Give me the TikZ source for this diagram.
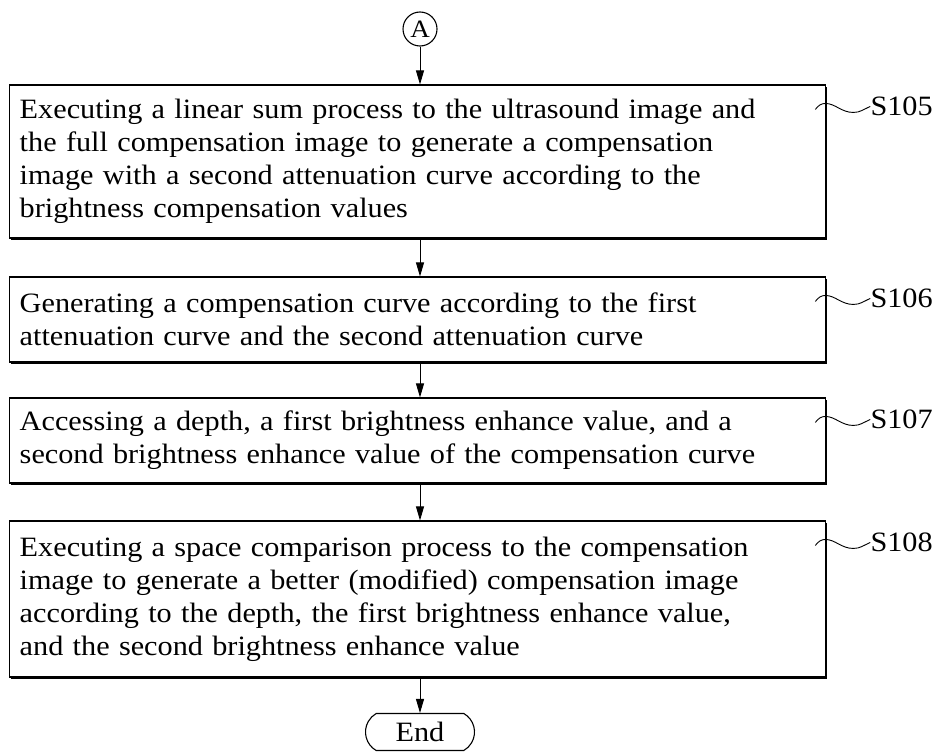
\documentclass[tikz,border=0pt]{standalone}
\usepackage{fontspec}
\setmainfont{Liberation Serif}[FakeStretch=1.08]
\usetikzlibrary{arrows.meta,shapes.misc,shadows,calc}

\begin{document}
\begin{tikzpicture}[x=1pt,y=1pt,
  stepbox/.style={draw, line width=1.1pt, rectangle, text width=796pt, inner xsep=10pt, inner ysep=0pt,
     align=left, font=\fontsize{28}{33}\selectfont, fill=white,
     drop shadow={shadow xshift=1.6pt, shadow yshift=-1.6pt, fill=black, opacity=1}},
  lbl/.style={anchor=west, inner sep=0pt, font=\fontsize{28}{33}\selectfont},
  conn/.style={draw, line width=0.9pt, -{Triangle[length=14pt,width=8pt]}},
  tilde/.style={draw, line width=0.9pt},
  term/.style={draw, line width=1.1pt, rounded rectangle, rounded rectangle arc length=120,
     minimum width=109pt, minimum height=37pt, inner sep=0pt, font=\fontsize{28}{30}\selectfont},
  conncircle/.style={draw, line width=1.1pt, circle, minimum size=34pt, inner sep=0pt, font=\fontsize{25}{28}\selectfont}
]
\useasboundingbox (0,0) rectangle (939,-752);

\node[conncircle] (A) at (420,-29) {A};

\node[stepbox, minimum height=153pt] (b1) at (417.75,-161.5)
  {Executing a linear sum process to the ultrasound image and\\
   the full compensation image to generate a compensation\\
   image with a second attenuation curve according to the\\
   brightness compensation values};
\node[stepbox, minimum height=85pt] (b2) at (417.75,-319.5)
  {Generating a compensation curve according to the first\\
   attenuation curve and the second attenuation curve};
\node[stepbox, minimum height=85pt] (b3) at (417.75,-440.5)
  {Accessing a depth, a first brightness enhance value, and a\\
   second brightness enhance value of the compensation curve};
\node[stepbox, minimum height=156pt] (b4) at (417.75,-599)
  {Executing a space comparison process to the compensation\\
   image to generate a better (modified) compensation image\\
   according to the depth, the first brightness enhance value,\\
   and the second brightness enhance value};

\node[term] (E) at (420,-732) {End};

\draw[conn] (A.south) -- (A.south |- b1.north);
\draw[conn] (b1.south -| A) -- (A |- b2.north);
\draw[conn] (b2.south -| A) -- (A |- b3.north);
\draw[conn] (b3.south -| A) -- (A |- b4.north);
\draw[conn] (b4.south -| A) -- (E.north);

\foreach \b/\s in {b1/S105, b2/S106, b3/S107, b4/S108}{
  \node[lbl] (l\b) at ($(\b.north east)+(44pt,-22pt)$) {\s};
  \coordinate (t\b) at ($(\b.north east)+(-11pt,-25pt)$);
  \draw[tilde] (t\b) .. controls +(3,4) and +(-4,0) .. ++(10,6)
     .. controls +(10,0) and +(-12,0) .. ++(28,-9)
     .. controls +(7,0) and +(-7,-3) .. (l\b.west);
}
\end{tikzpicture}
\end{document}
